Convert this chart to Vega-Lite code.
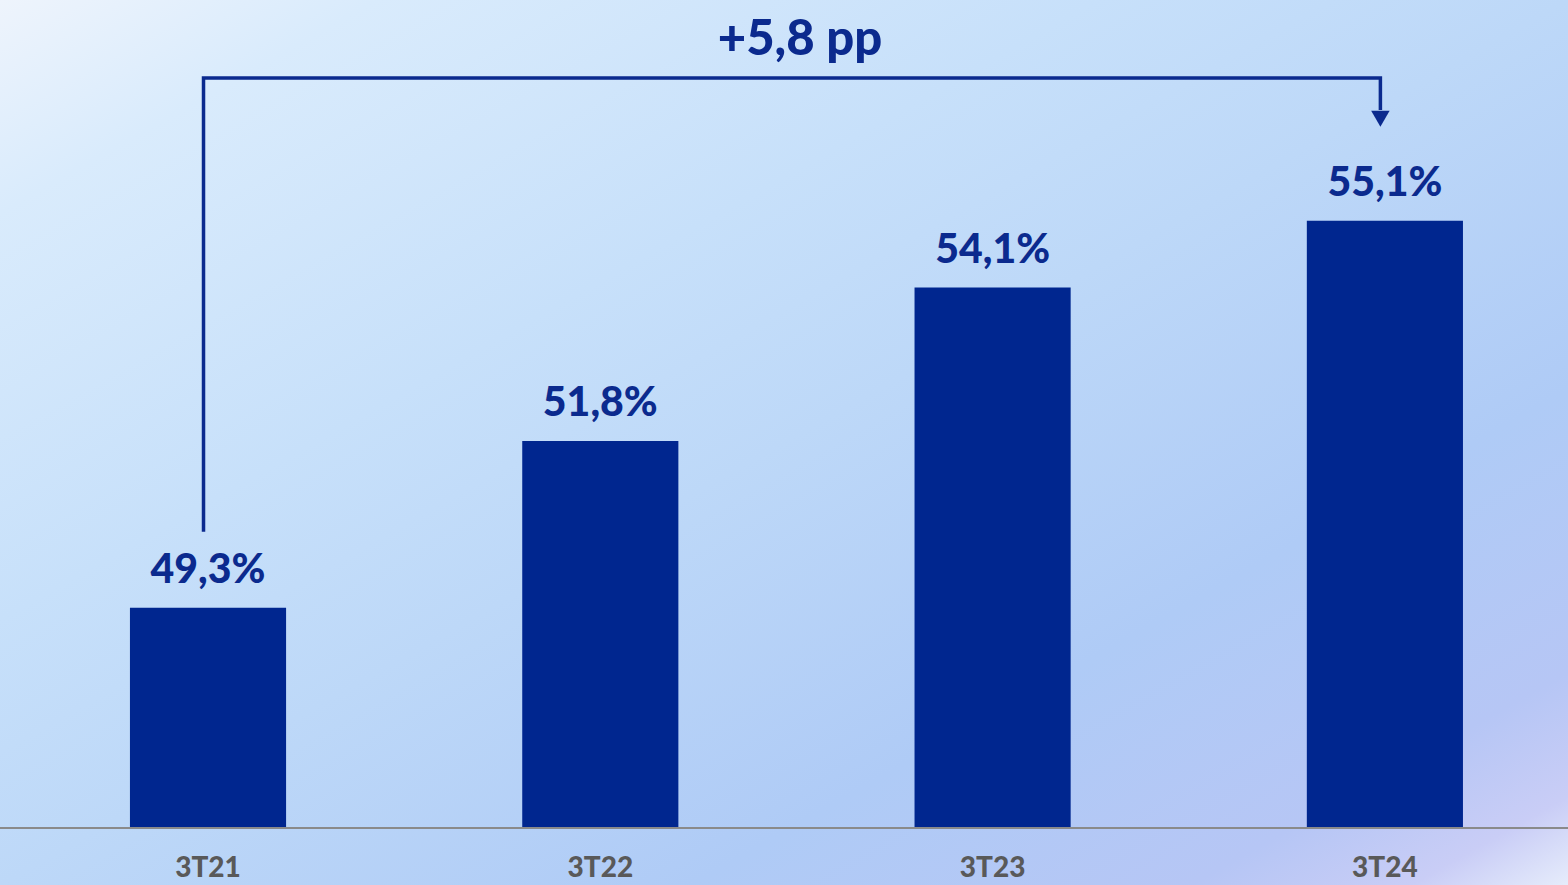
{
  "$schema": "https://vega.github.io/schema/vega-lite/v6.json",
  "width": 1568,
  "height": 885,
  "autosize": {"type": "none"},
  "padding": 0,
  "background": "#c4dcf8",
  "config": {
    "view": {
      "stroke": null,
      "fill": {
        "gradient": "linear",
        "x1": 0, "y1": 0, "x2": 1, "y2": 1,
        "stops": [
          {"offset": 0, "color": "#eef4fc"},
          {"offset": 0.12, "color": "#d9ebfc"},
          {"offset": 0.35, "color": "#c7e0fa"},
          {"offset": 0.5, "color": "#bdd8f8"},
          {"offset": 0.72, "color": "#afcbf6"},
          {"offset": 0.88, "color": "#b6c6f5"},
          {"offset": 0.95, "color": "#c9cdf6"},
          {"offset": 1, "color": "#e6ecfb"}
        ]
      }
    },
    "font": "Lato"
  },
  "datasets": {
    "bars": [
      {"period": "3T21", "value": 49.3, "label": "49,3%"},
      {"period": "3T22", "value": 51.8, "label": "51,8%"},
      {"period": "3T23", "value": 54.1, "label": "54,1%"},
      {"period": "3T24", "value": 55.1, "label": "55,1%"}
    ],
    "bracket": [
      {"period": "3T21", "y": 50.44, "order": 1},
      {"period": "3T21", "y": 57.24, "order": 2},
      {"period": "3T24", "y": 57.24, "order": 3},
      {"period": "3T24", "y": 56.76, "order": 4}
    ],
    "arrow": [
      {"period": "3T24", "y": 56.63}
    ],
    "note": [
      {"period": "3T22", "y": 57.585, "label": "+5,8 pp"}
    ]
  },
  "data": {"name": "bars"},
  "encoding": {
    "x": {
      "field": "period",
      "type": "nominal",
      "sort": null,
      "axis": null,
      "scale": {
        "domain": ["3T21", "3T22", "3T23", "3T24"],
        "paddingInner": 0.602,
        "paddingOuter": 0.2995,
        "align": 0.553
      }
    }
  },
  "layer": [
    {
      "mark": {"type": "bar", "color": "#00268f"},
      "encoding": {
        "y": {
          "field": "value",
          "type": "quantitative",
          "axis": null,
          "scale": {"domain": [45.145, 58.41], "zero": false, "nice": false}
        },
        "y2": {"datum": 46}
      }
    },
    {
      "mark": {
        "type": "text",
        "baseline": "alphabetic",
        "align": "center",
        "dy": -25,
        "fontSize": 41,
        "fontWeight": 900,
        "color": "#0b2a8e"
      },
      "encoding": {
        "y": {"field": "value", "type": "quantitative"},
        "text": {"field": "label"}
      }
    },
    {
      "mark": {
        "type": "text",
        "baseline": "alphabetic",
        "align": "center",
        "fontSize": 28,
        "fontWeight": 900,
        "color": "#595959"
      },
      "encoding": {
        "y": {"datum": 45.266, "type": "quantitative"},
        "text": {"field": "period"}
      }
    },
    {
      "mark": {"type": "rule", "color": "#8a8a8a", "strokeWidth": 2},
      "encoding": {
        "x": null,
        "y": {"datum": 46, "type": "quantitative"}
      }
    },
    {
      "data": {"name": "bracket"},
      "mark": {
        "type": "line",
        "color": "#0b2a8e",
        "strokeWidth": 3.5,
        "strokeJoin": "miter",
        "strokeCap": "butt",
        "xOffset": -4.5
      },
      "encoding": {
        "y": {"field": "y", "type": "quantitative"},
        "order": {"field": "order", "type": "quantitative"}
      }
    },
    {
      "data": {"name": "arrow"},
      "mark": {
        "type": "point",
        "shape": "triangle-down",
        "filled": true,
        "opacity": 1,
        "size": 340,
        "color": "#0b2a8e",
        "xOffset": -4.5
      },
      "encoding": {
        "y": {"field": "y", "type": "quantitative"}
      }
    },
    {
      "data": {"name": "note"},
      "mark": {
        "type": "text",
        "baseline": "alphabetic",
        "align": "center",
        "fontSize": 49,
        "fontWeight": 900,
        "color": "#0b2a8e"
      },
      "encoding": {
        "x": {"field": "period", "type": "nominal", "bandPosition": 1.779},
        "y": {"field": "y", "type": "quantitative"},
        "text": {"field": "label"}
      }
    }
  ]
}
